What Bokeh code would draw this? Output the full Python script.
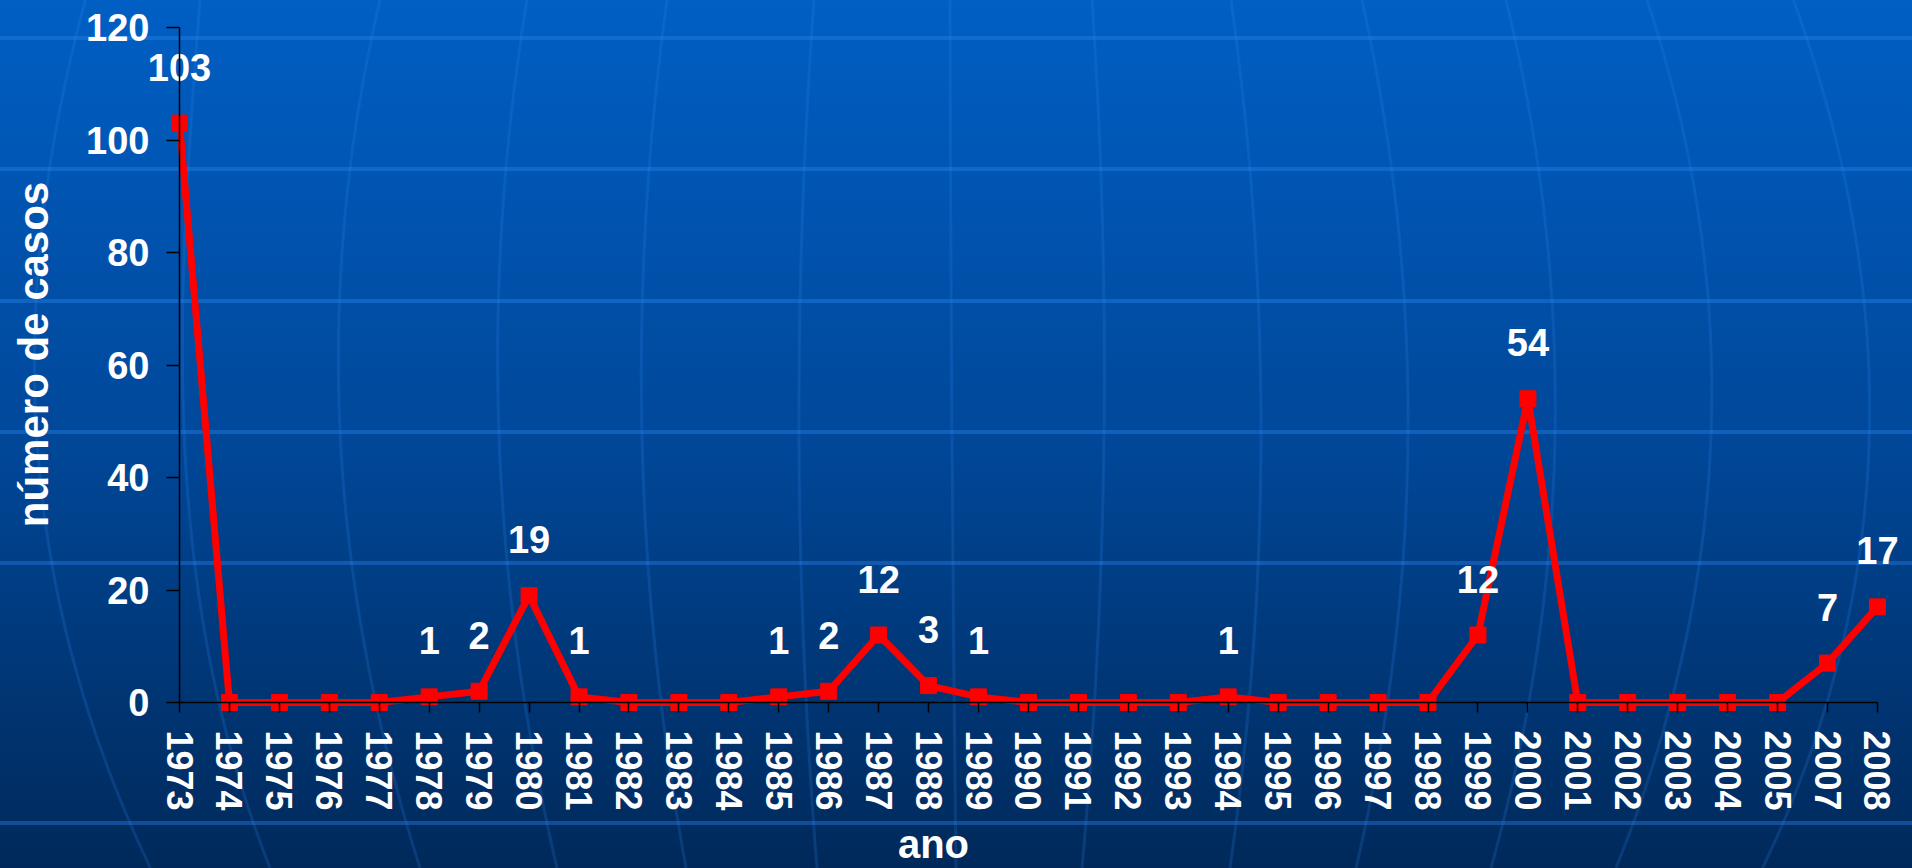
import base64
import numpy as np
from bokeh.plotting import figure
from bokeh.models import ColumnDataSource, FixedTicker, Range1d, Label
from bokeh.embed import file_html
from bokeh.resources import INLINE
from bokeh.core.properties import value

# ---------------- data ----------------
years = ["1973", "1974", "1975", "1976", "1977", "1978", "1979", "1980", "1981",
         "1982", "1983", "1984", "1985", "1986", "1987", "1988", "1989", "1990",
         "1991", "1992", "1993", "1994", "1995", "1996", "1997", "1998", "1999",
         "2000", "2001", "2002", "2003", "2004", "2005", "2007", "2008"]
cases = [103, 0, 0, 0, 0, 1, 2, 19, 1,
         0, 0, 0, 1, 2, 12, 3, 1, 0,
         0, 0, 0, 1, 0, 0, 0, 0, 12,
         54, 0, 0, 0, 0, 0, 7, 17]
y_ticks = [0, 20, 40, 60, 80, 100, 120]
x_title = "ano"
y_title = "número de casos"

# ---------------- geometry (page pixels) ----------------
# Bokeh's standalone page template has no body margin: the figure sits at (0, 0)
W, H = 1912, 868
OX, OY = 0, 0
X0_PAGE, STEP = 179.0, 49.94        # page x of first category, px per category
Y0_PAGE, YPX = 702.0, 5.625         # page y of value 0, px per unit

# the frame covers the whole canvas; axes are pinned at the data origin
x_start = (OX - X0_PAGE) / STEP
x_end = (OX + W - X0_PAGE) / STEP
y_end = (Y0_PAGE - OY) / YPX
y_start = (Y0_PAGE - (OY + H)) / YPX

def px_to_x(px):
    return (px - X0_PAGE) / STEP

def py_to_y(py):
    return (Y0_PAGE - py) / YPX

FONT = "Liberation Sans"

# ---------------- background (decorative globe) ----------------
def meridian(pts):
    ys = np.array([p[0] for p in pts], float)
    xs = np.array([p[1] for p in pts], float)
    deg = min(3, len(pts) - 1)
    c = np.polyfit(ys, xs, deg)
    yy = np.linspace(0, 868, 60)
    xx = np.polyval(c, yy)
    return " ".join(f"{x:.1f},{y:.1f}" for x, y in zip(xx, yy))

mer_pts = [
    [(0, 85), (250, 42), (450, 33), (600, 62), (868, 150)],
    [(0, 200), (430, 184), (550, 193), (868, 270)],
    [(0, 380), (430, 340), (550, 350), (868, 420)],
    [(0, 527), (435, 499), (868, 557)],
    [(0, 667), (435, 642), (868, 686)],
    [(0, 814), (435, 799), (868, 817)],
    [(0, 950), (435, 952), (868, 956)],
    [(0, 1092), (435, 1104), (868, 1082)],
    [(0, 1231), (435, 1261), (868, 1230)],
    [(0, 1362), (435, 1408), (868, 1356)],
    [(0, 1506), (435, 1555), (868, 1491)],
    [(0, 1647), (435, 1711), (868, 1616)],
    [(0, 1794), (120, 1830), (440, 1870), (760, 1807), (868, 1763)],
]
hlines = [38, 169, 301, 432, 563, 823]

svg_parts = [
    f'<svg xmlns="http://www.w3.org/2000/svg" width="{W}" height="{H}" viewBox="0 0 {W} {H}">',
    '<defs><linearGradient id="g" x1="0" y1="0" x2="0" y2="1">'
    '<stop offset="0" stop-color="#005fc4"/><stop offset="0.5" stop-color="#00489a"/>'
    '<stop offset="1" stop-color="#00295a"/></linearGradient></defs>',
    f'<rect x="0" y="0" width="{W}" height="{H}" fill="url(#g)"/>',
    f'<g transform="translate({-OX},{-OY})">',
]
for hy in hlines:
    svg_parts.append(f'<line x1="0" x2="1912" y1="{hy}" y2="{hy}" stroke="#2b86f0" stroke-opacity="0.38" stroke-width="4"/>')
for pts in mer_pts:
    svg_parts.append(f'<polyline points="{meridian(pts)}" fill="none" stroke="#2b86f0" stroke-opacity="0.2" stroke-width="3"/>')
svg_parts.append('</g></svg>')
bg64 = base64.b64encode("".join(svg_parts).encode()).decode()

# ---------------- figure ----------------
p = figure(width=W, height=H, output_backend="svg", toolbar_location=None,
           x_range=Range1d(x_start, x_end), y_range=Range1d(y_start, y_end),
           min_border_left=0, min_border_right=0,
           min_border_top=0, min_border_bottom=0,
           background_fill_color=None, border_fill_color=None,
           outline_line_color=None)
p.styles = {"background-image": f"url('data:image/svg+xml;base64,{bg64}')",
            "background-size": "100% 100%"}
p.grid.visible = False

idx = list(range(len(years)))
src = ColumnDataSource(dict(x=idx, y=cases))
lab_i = [i for i, c in enumerate(cases) if c > 0]
lab_src = ColumnDataSource(dict(x=lab_i, y=[cases[i] for i in lab_i],
                                t=[str(cases[i]) for i in lab_i]))

p.line("x", "y", source=src, line_color="#ff0000", line_width=7)
p.scatter("x", "y", source=src, marker="square", size=16,
          fill_color="#ff0000", line_color="#ff0000")
p.text("x", "y", text="t", source=lab_src, text_font=value(FONT),
       text_font_style="bold", text_font_size="38px", text_color="white",
       text_align="center", text_baseline="alphabetic", y_offset=-56)

# x axis (pinned at value 0)
xa = p.xaxis[0]
xa.fixed_location = 0
xa.ticker = FixedTicker(ticks=idx)
xa.major_label_overrides = {i: y for i, y in enumerate(years)}
xa.major_label_orientation = "vertical"
xa.bounds = (0, len(years) - 1)
xa.minor_tick_line_color = None
xa.major_tick_in = 0
xa.major_tick_out = 10
xa.major_label_standoff = 18
xa.axis_line_color = "black"
xa.axis_line_width = 1.5
xa.major_tick_line_color = "black"
xa.major_tick_line_width = 1.5
xa.major_label_text_font = FONT
xa.major_label_text_font_style = "bold"
xa.major_label_text_font_size = "36px"
xa.major_label_text_color = "white"

# y axis (pinned at the first category)
ya = p.yaxis[0]
ya.fixed_location = 0
ya.ticker = FixedTicker(ticks=y_ticks)
ya.bounds = (0, y_ticks[-1])
ya.minor_tick_line_color = None
ya.major_tick_in = 0
ya.major_tick_out = 13
ya.major_label_standoff = 17
ya.axis_line_color = "black"
ya.axis_line_width = 1.5
ya.major_tick_line_color = "black"
ya.major_tick_line_width = 1.5
ya.major_label_text_font = FONT
ya.major_label_text_font_style = "bold"
ya.major_label_text_font_size = "38px"
ya.major_label_text_color = "white"

# axis titles placed where the original has them
p.add_layout(Label(x=px_to_x(933), y=py_to_y(843), text=x_title,
                   text_font=FONT, text_font_style="bold", text_font_size="40px",
                   text_color="white", text_align="center",
                   text_baseline="alphabetic"))
p.add_layout(Label(x=px_to_x(33), y=py_to_y(354), text=y_title, angle=np.pi / 2,
                   text_font=FONT, text_font_style="bold", text_font_size="42px",
                   text_color="white", text_align="center",
                   text_baseline="alphabetic"))

open("out.html", "w").write(file_html(p, INLINE))
